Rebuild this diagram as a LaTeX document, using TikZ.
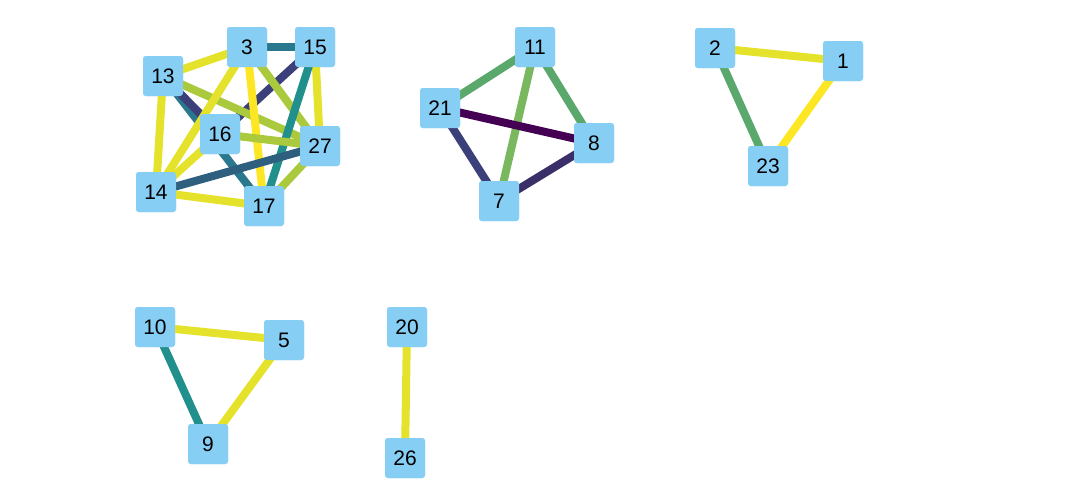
\documentclass[tikz,border=0pt]{standalone}
\usepackage{fontspec}
\setmainfont{Liberation Sans}
\begin{document}
\begin{tikzpicture}[x=1pt,y=-1pt,
  n/.style={draw=none,fill={rgb,255:red,135;green,206;blue,245},rounded corners=3pt,minimum width=40pt,minimum height=40pt,inner sep=0pt,font=\fontsize{21}{21}\selectfont},
  e/.style={line width=8pt}]
\definecolor{cy}{HTML}{E5E22B}\definecolor{cyy}{HTML}{FDE725}\definecolor{cyg}{HTML}{AAC93C}
\definecolor{cteal}{HTML}{2A788E}\definecolor{ctg}{HTML}{21908D}\definecolor{cnavy}{HTML}{3B3F7A}
\definecolor{cdt}{HTML}{2E5F7E}\definecolor{cg}{HTML}{5BA86C}\definecolor{clg}{HTML}{7AB860}
\definecolor{cpur}{HTML}{440154}\definecolor{cnv2}{HTML}{3A2F68}
\useasboundingbox (0,0) rectangle (1068,501);
\begin{scope}[every node/.style=n]
\node (n3) at (247,47) {3}; \node (n15) at (315,47) {15}; \node (n13) at (163,76) {13};
\node (n16) at (220,134) {16}; \node (n27) at (320,146) {27}; \node (n14) at (156,192) {14};
\node (n17) at (264,206) {17};
\node (n11) at (535,47) {11}; \node (n21) at (440,108) {21}; \node (n8) at (594,143) {8}; \node (n7) at (499,201) {7};
\node (n2) at (715,48) {2}; \node (n1) at (843,61) {1}; \node (n23) at (768,166) {23};
\node (n10) at (155,327) {10}; \node (n5) at (284,340) {5}; \node (n9) at (208,444) {9};
\node (n20) at (407,327) {20}; \node (n26) at (405,458) {26};
\end{scope}
\begin{scope}[e]
\draw[cy] (n13.center)--(n3.center); \draw[cteal] (n3.center)--(n15.center);
\draw[cteal] (n13.center)--(n17.center); \draw[cnavy] (n13.center)--(n16.center);
\draw[cnavy] (n16.center)--(n15.center);
\draw[cy] (n13.center)--(n14.center); \draw[cyg] (n13.center)--(n27.center);
\draw[cy] (n3.center)--(n14.center); \draw[cy] (n16.center)--(n14.center);
\draw[cyy] (n3.center)--(n17.center); \draw[cyg] (n3.center)--(n27.center);
\draw[cy] (n15.center)--(n27.center); \draw[ctg] (n15.center)--(n17.center);
\draw[cyg] (n16.center)--(n27.center); \draw[cdt] (n14.center)--(n27.center);
\draw[cy] (n14.center)--(n17.center); \draw[cyg] (n17.center)--(n27.center);
\draw[cg] (n11.center)--(n21.center); \draw[cg] (n11.center)--(n8.center);
\draw[clg] (n11.center)--(n7.center); \draw[cpur] (n21.center)--(n8.center);
\draw[cnavy] (n21.center)--(n7.center); \draw[cnv2] (n7.center)--(n8.center);
\draw[cy] (n2.center)--(n1.center); \draw[cg] (n2.center)--(n23.center); \draw[cyy] (n1.center)--(n23.center);
\draw[cy] (n10.center)--(n5.center); \draw[ctg] (n10.center)--(n9.center); \draw[cy] (n5.center)--(n9.center);
\draw[cy] (n20.center)--(n26.center);
\end{scope}
\begin{scope}[every node/.style=n]
\node at (n3) {3}; \node at (n15) {15}; \node at (n13) {13}; \node at (n16) {16}; \node at (n27) {27};
\node at (n14) {14}; \node at (n17) {17}; \node at (n11) {11}; \node at (n21) {21}; \node at (n8) {8};
\node at (n7) {7}; \node at (n2) {2}; \node at (n1) {1}; \node at (n23) {23}; \node at (n10) {10};
\node at (n5) {5}; \node at (n9) {9}; \node at (n20) {20}; \node at (n26) {26};
\end{scope}
\end{tikzpicture}
\end{document}
